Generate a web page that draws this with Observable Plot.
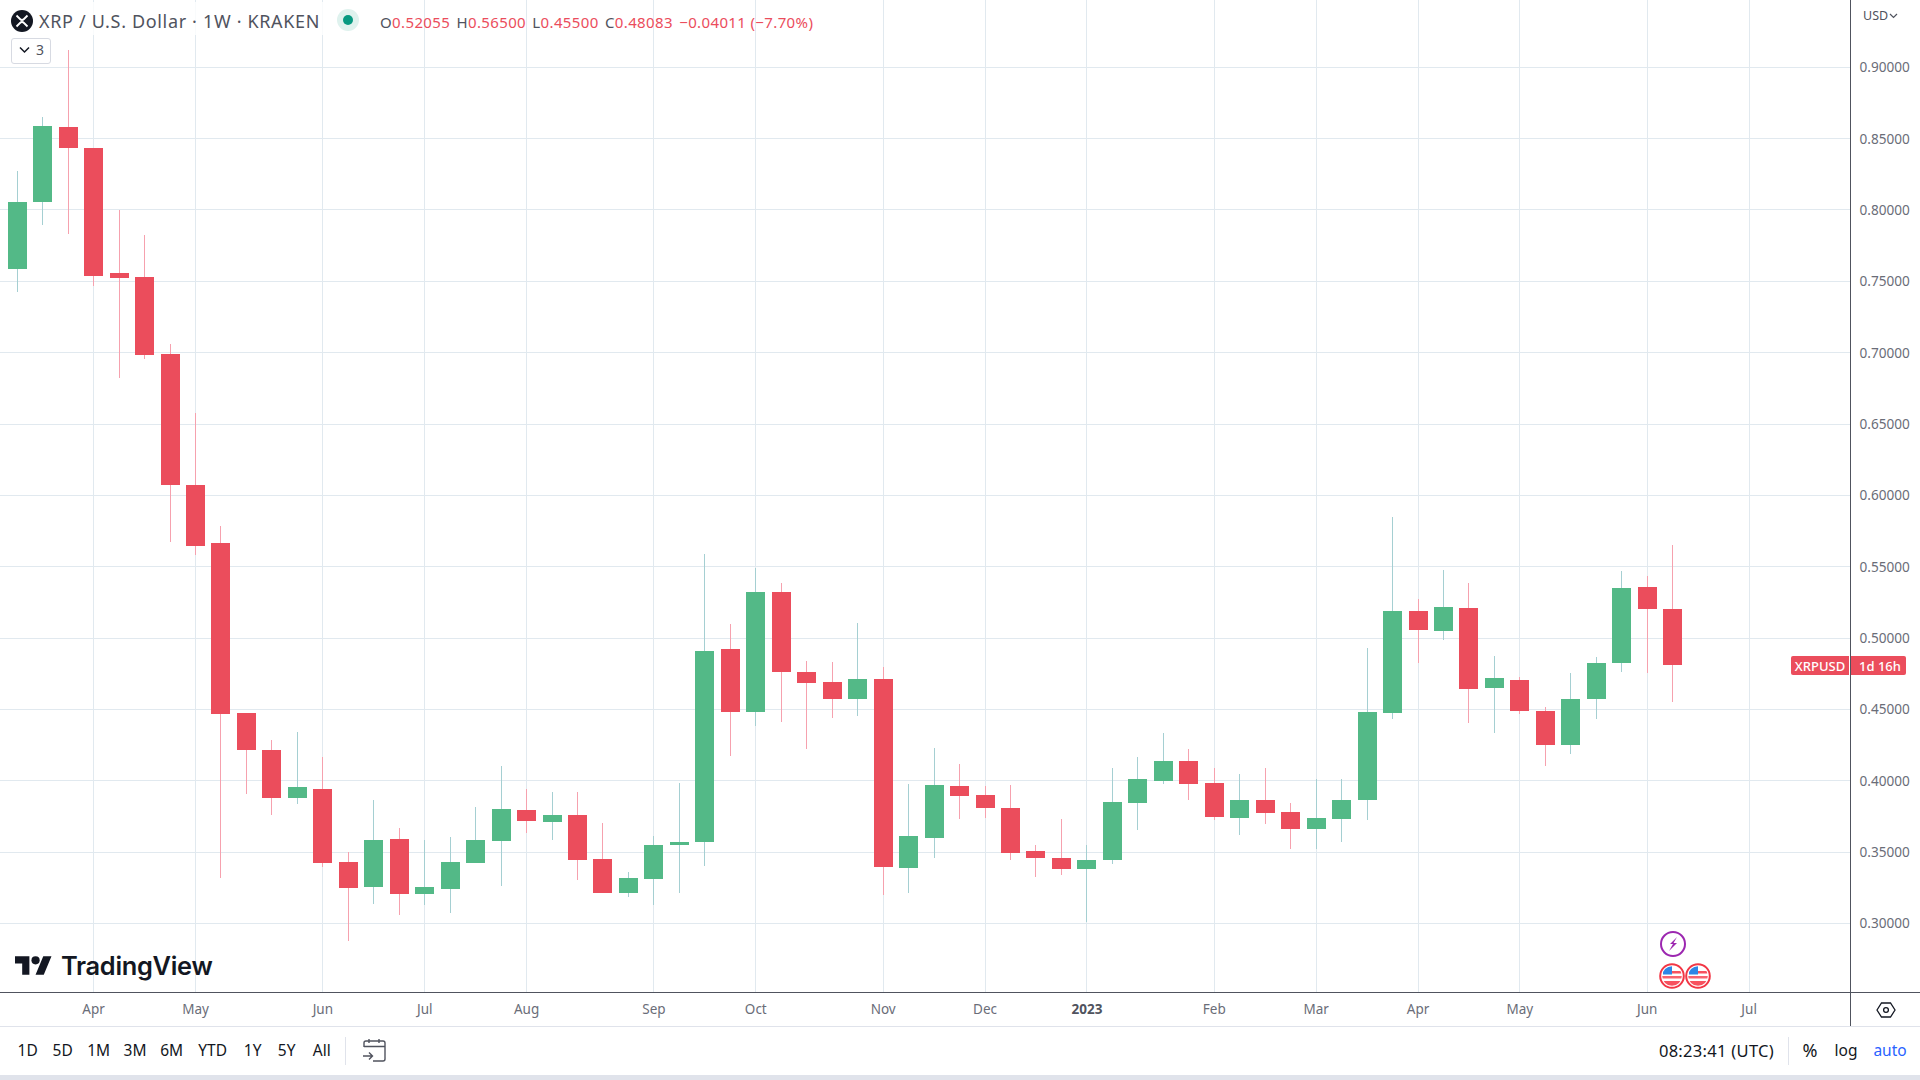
<!DOCTYPE html>
<html>
<head>
<meta charset="utf-8">
<script src="https://cdn.jsdelivr.net/npm/d3@7"></script>
<script src="https://cdn.jsdelivr.net/npm/@observablehq/plot@0.6"></script>
<style>
html,body{margin:0;padding:0;width:1920px;height:1080px;overflow:hidden;background:#fff;font-family:"Noto Sans",sans-serif;}
#chart{position:absolute;left:0;top:0;}
#chart svg{display:block;}
.o{position:absolute;white-space:nowrap;line-height:1;}
.c{transform:translate(-50%,-50%);}
.l{transform:translateY(-50%);}
.tb{color:#131722;font-size:15.5px;}
</style>
</head>
<body>
<div id="chart"></div>
<div id="overlay"></div>
<script>
const firstWeek = "2022-03-14";
const opens = [.7589,.8058,.8582,.8435,.7558,.7530,.6991,.6073,.5666,.4475,.4216,.3882,.3943,.3431,.3258,.3592,.3209,.3244,.3426,.3580,.3795,.3713,.3760,.3452,.3216,.3314,.3552,.3573,.4924,.4484,.5323,.4762,.4692,.4575,.4713,.3391,.3601,.3964,.3900,.3809,.3508,.3459,.3384,.3447,.3846,.4001,.4139,.3985,.3741,.3865,.3781,.3664,.3734,.3868,.4477,.5190,.5052,.5211,.4652,.4706,.4489,.4253,.4575,.4828,.5358,.52055];
const highs = [.8273,.8652,.9121,.8435,.8000,.7825,.7061,.6577,.5786,.4475,.4286,.4342,.4167,.3501,.3865,.3669,.3585,.3606,.3816,.4104,.3943,.3922,.3922,.3704,.3361,.3613,.3985,.5589,.5099,.5491,.5386,.4839,.4832,.5106,.4797,.3978,.4230,.4118,.3964,.3971,.3550,.3732,.3550,.4090,.4167,.4335,.4223,.4090,.4048,.4090,.3844,.4013,.4013,.4931,.5849,.5274,.5477,.5386,.4875,.4727,.4517,.4755,.4868,.5470,.5435,.56500];
const lows = [.7427,.7897,.7834,.7470,.6825,.6958,.5675,.5584,.3321,.3910,.3762,.3840,.3398,.2880,.3139,.3062,.3132,.3074,.3426,.3265,.3636,.3585,.3307,.3216,.3188,.3132,.3216,.3405,.4176,.4386,.4414,.4225,.4442,.4456,.3202,.3216,.3461,.3734,.3741,.3447,.3328,.3342,.3013,.3419,.3657,.3980,.3868,.3727,.3622,.3699,.3524,.3524,.3573,.3727,.4435,.4828,.4989,.4407,.4337,.4470,.4106,.4190,.4435,.4765,.4758,.45500];
const closes = [.8056,.8589,.8437,.7540,.7526,.6986,.6075,.5647,.4470,.4218,.3882,.3957,.3426,.3251,.3585,.3209,.3256,.3431,.3585,.3802,.3720,.3760,.3447,.3216,.3319,.3550,.3571,.4910,.4484,.5323,.4765,.4687,.4575,.4713,.3398,.3613,.3971,.3896,.3811,.3496,.3461,.3384,.3445,.3851,.4013,.4139,.3980,.3748,.3865,.3776,.3664,.3739,.3865,.4482,.5190,.5059,.5218,.4645,.4720,.4491,.4253,.4573,.4825,.5351,.5206,.48083];

const priceTicks = [.30,.35,.40,.45,.50,.55,.60,.65,.70,.75,.80,.85,.90];
const monthDates = ["2022-04-04","2022-05-02","2022-06-06","2022-07-04","2022-08-01","2022-09-05","2022-10-03","2022-11-07","2022-12-05","2023-02-06","2023-03-06","2023-04-03","2023-05-01","2023-06-05","2023-07-03"].map(d=>new Date(d));
const monthLabels = ["Apr","May","Jun","Jul","Aug","Sep","Oct","Nov","Dec","Feb","Mar","Apr","May","Jun","Jul"];
const yearDates = [new Date("2023-01-02")];
const yearLabels = ["2023"];
const rangeButtons = ["1D","5D","1M","3M","6M","YTD","1Y","5Y","All"];
const rangeButtonX = [27.7,62.7,98.7,135,171.7,212.7,252.7,286.7,321.7];

const GREEN="#53b987", RED="#eb4d5c", GREEN_WICK="#a5cfd2", RED_WICK="#f6a1ae", GRID="#e1e9ef", AXIS_TEXT="#6a6d78", LINE="#50535e";
const FONT='"Noto Sans",sans-serif';

const candles = opens.map((o,i)=>({
  date:d3.utcDay.offset(new Date(firstWeek),i*7),
  open:o,high:highs[i],low:lows[i],close:closes[i],
  up:closes[i]>=o
}));
const rightEdge = d3.utcDay.offset(new Date(firstWeek),68*7);
const fmtMonth = d=>monthLabels[monthDates.findIndex(m=>+m===+d)];

const plot = Plot.plot({
  width:1920,height:1080,
  marginTop:0,marginLeft:0,marginRight:70,marginBottom:88,
  style:{fontFamily:FONT,fontSize:"14px",background:"transparent",overflow:"visible"},
  x:{type:"utc",domain:[new Date(firstWeek),rightEdge],range:[16.7,1748.6]},
  y:{type:"linear",domain:[.25178,.94716],range:[992.3,0]},
  marks:[
    Plot.gridY(priceTicks,{stroke:GRID,strokeOpacity:1,strokeWidth:1,dy:-0.5,shapeRendering:"crispEdges"}),
    Plot.gridX(monthDates.concat(yearDates),{stroke:GRID,strokeOpacity:1,strokeWidth:1,shapeRendering:"crispEdges"}),
    Plot.ruleX(candles,{x:"date",y1:"low",y2:"high",stroke:d=>d.up?GREEN_WICK:RED_WICK,strokeWidth:1,shapeRendering:"crispEdges"}),
    Plot.ruleX(candles,{x:"date",y1:"open",y2:"close",stroke:d=>d.up?GREEN:RED,strokeWidth:19,shapeRendering:"crispEdges"}),
    Plot.axisY({anchor:"right",ticks:priceTicks,tickSize:0,tickPadding:9,label:null,tickFormat:d3.format(".5f"),fill:AXIS_TEXT,fontSize:13.6}),
    Plot.axisX({anchor:"bottom",ticks:monthDates,tickSize:0,tickPadding:12,label:null,tickFormat:fmtMonth,fill:AXIS_TEXT,fontSize:13.5}),
    Plot.axisX({anchor:"bottom",ticks:yearDates,tickSize:0,tickPadding:12,label:null,tickFormat:()=>yearLabels[0],fill:"#50535e",fontSize:13.5,fontWeight:"bold"})
  ]
});
document.getElementById("chart").append(plot);

const ov=document.getElementById("overlay");
function box(css,html){const d=document.createElement("div");d.className="o";d.style.cssText=css;if(html)d.innerHTML=html;ov.append(d);return d;}

// structural lines
box("left:1850px;top:0;width:1px;height:1026px;background:"+LINE);
box("left:0;top:992px;width:1920px;height:1px;background:"+LINE);
box("left:0;top:1026px;width:1920px;height:1px;background:#e0e3eb");
box("left:0;top:1075px;width:1920px;height:5px;background:#e0e3eb");

// header
box("left:6px;top:2px;width:322px;height:33px;background:rgba(255,255,255,.8)");
box("left:11px;top:10px;width:22px;height:22px;border-radius:50%;background:#131722",
 '<svg width="22" height="22" viewBox="0 0 22 22" style="display:block"><path d="M5.5 5.5 L9 9 Q11 11 13 9 L16.5 5.5 M5.5 16.5 L9 13 Q11 11 13 13 L16.5 16.5" fill="none" stroke="#fff" stroke-width="1.8"/></svg>');
box("left:39px;top:21px;font-size:18px;color:#50535e;letter-spacing:.66px;","XRP / U.S. Dollar · 1W · KRAKEN").classList.add("l");
box("left:337px;top:9px;width:22px;height:22px;border-radius:50%;background:#dff2ee");
box("left:343px;top:15px;width:10px;height:10px;border-radius:50%;background:#089981");
box("left:380px;top:22px;font-size:15px;letter-spacing:.37px;color:#eb4d5c;",
 '<span style="color:#50535e">O</span>0.52055 <span style="color:#50535e;margin-left:2px">H</span>0.56500 <span style="color:#50535e;margin-left:2px">L</span>0.45500 <span style="color:#50535e;margin-left:2px">C</span>0.48083 <span style="margin-left:2px">−0.04011 (−7.70%)</span>').classList.add("l");
box("left:11px;top:38px;width:38px;height:24px;border:1px solid #d7dae2;border-radius:3px;background:#fff");
box("left:18px;top:46px;", '<svg width="13" height="8" viewBox="0 0 13 8" style="display:block"><path d="M2 1.5 L6.5 6 L11 1.5" fill="none" stroke="#131722" stroke-width="1.5"/></svg>');
box("left:36px;top:50px;font-size:14px;color:#50535e;","3").classList.add("l");

// top-right currency
box("left:1863px;top:16px;font-size:12.5px;color:#50535e;","USD").classList.add("l");
box("left:1889px;top:13px;", '<svg width="9" height="6" viewBox="0 0 9 6" style="display:block"><path d="M1 1 L4.5 4.5 L8 1" fill="none" stroke="#50535e" stroke-width="1.2"/></svg>');

// last price tag
box("left:1791px;top:656px;width:58px;height:19px;background:#eb4d5c;border-radius:2px 0 0 2px;");
box("left:1820px;top:666px;font-size:13px;color:#fff;font-weight:500;","XRPUSD").classList.add("c");
box("left:1851px;top:656px;width:55px;height:19px;background:#eb4d5c;border-radius:0 2px 2px 0;");
box("left:1880px;top:666px;font-size:13px;color:#fff;font-weight:500;","1d 16h").classList.add("c");

// TradingView logo
box("left:15px;top:952px;", '<svg width="37" height="29" viewBox="0 0 36 28" style="display:block"><path fill="#131722" d="M14 22H7V11H0V4h14v18zM28 22h-8l7.5-18h8L28 22z"/><circle fill="#131722" cx="20" cy="8" r="4"/></svg>');
box("left:61px;top:966px;font-family:Inter,sans-serif;font-size:25.4px;font-weight:600;color:#131722;letter-spacing:-.3px;","TradingView").classList.add("l");

// event markers
const flag='<svg width="26" height="26" viewBox="0 0 26 26" style="display:block"><defs><clipPath id="cf"><circle cx="13" cy="13" r="9.8"/></clipPath></defs><circle cx="13" cy="13" r="11.8" fill="#fff" stroke="#f23645" stroke-width="2"/><g clip-path="url(#cf)"><rect x="3" y="3" width="20" height="20" fill="#fff"/><rect x="3" y="13" width="20" height="2.5" fill="#f7525f" opacity=".9"/><rect x="3" y="18" width="20" height="5" fill="#f7525f"/><rect x="12" y="8" width="11" height="2.5" fill="#f7525f"/><rect x="4" y="3" width="9" height="8.5" fill="#2e86e6"/></g></svg>';
box("left:1659px;top:963px;",flag);
box("left:1685px;top:963px;",flag);
box("left:1660px;top:931px;", '<svg width="26" height="26" viewBox="0 0 26 26" style="display:block"><circle cx="13" cy="13" r="12" fill="#fff" stroke="#9c27b0" stroke-width="2"/><path d="M17 6 L10 13 L13 13 L9 20 L17 12 L13.5 12 Z" fill="#9c27b0"/></svg>');

// settings icon
box("left:1876px;top:1002px;", '<svg width="20" height="16" viewBox="0 0 20 16" style="display:block"><path d="M1 8 L5.5 1 H14.5 L19 8 L14.5 15 H5.5 Z" fill="none" stroke="#131722" stroke-width="1.3"/><circle cx="10" cy="8" r="2.4" fill="none" stroke="#131722" stroke-width="1.3"/></svg>');

// toolbar
rangeButtons.forEach((t,i)=>box("left:"+rangeButtonX[i]+"px;top:1051px;",t).classList.add("c","tb"));
box("left:345px;top:1037px;width:1px;height:28px;background:#e0e3eb");
box("left:362px;top:1038px;", '<svg width="25" height="24" viewBox="0 0 25 24" style="display:block"><path d="M2 9 V5 Q2 3 4 3 H21 Q23 3 23 5 V21 Q23 23 21 23 H11 M2 8.5 H23 M7 1 V5 M17 1 V5 M1 18 H10 M7 14.5 L10.5 18 L7 21.5" fill="none" stroke="#50535e" stroke-width="1.4"/></svg>');
box("left:1716.5px;top:1051px;font-size:16.5px;color:#131722;letter-spacing:.3px;","08:23:41 (UTC)").classList.add("c");
box("left:1788px;top:1037px;width:1px;height:28px;background:#e0e3eb");
box("left:1810px;top:1050px;font-size:18px;color:#131722;","%").classList.add("c");
box("left:1846px;top:1051px;font-size:15.5px;color:#131722;","log").classList.add("c");
box("left:1890px;top:1051px;font-size:15.5px;color:#2962ff;","auto").classList.add("c");
</script>
</body>
</html>
